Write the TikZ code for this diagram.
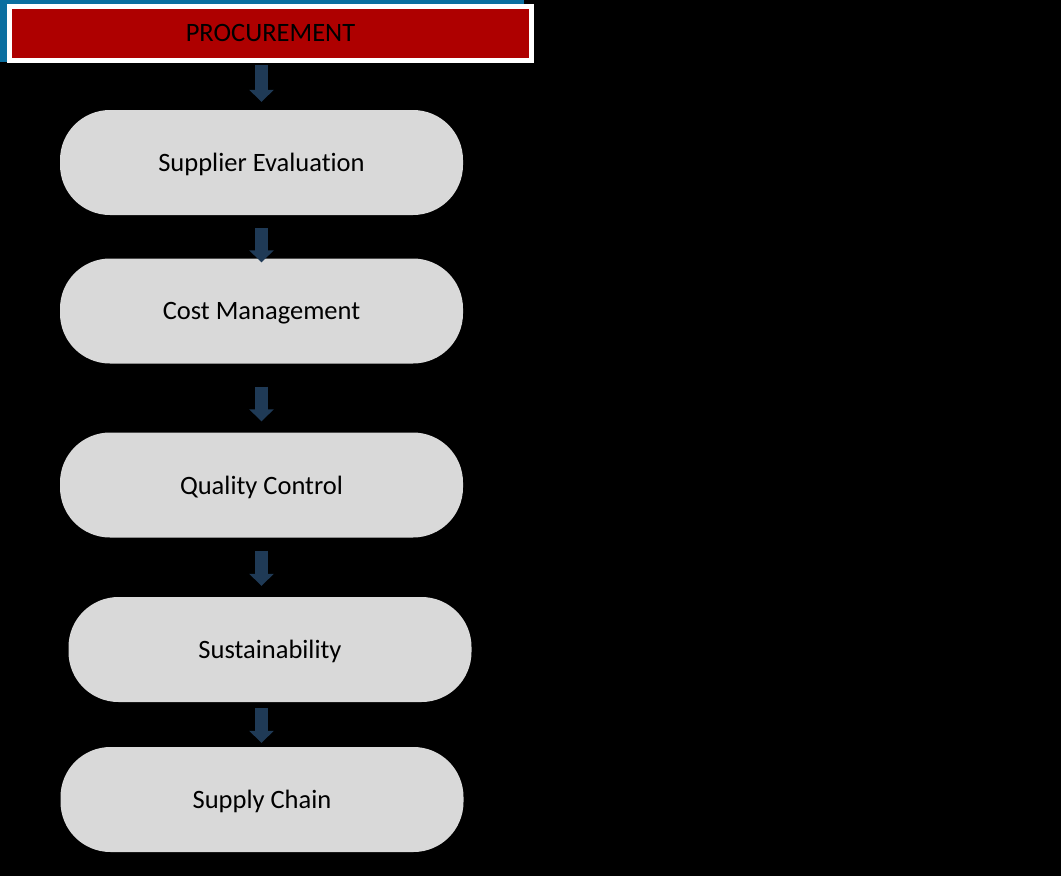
\documentclass[tikz,border=0pt]{standalone}
\usepackage{fontspec}
\setmainfont[Ligatures=NoCommon]{Carlito}
\usetikzlibrary{arrows.meta}
\definecolor{hdrred}{HTML}{AE0000}
\definecolor{hdrblue}{HTML}{0A6FA0}
\definecolor{pillgray}{HTML}{D9D9D9}
\definecolor{arrowblue}{HTML}{1F3A56}
\tikzset{
  pill/.style={fill=pillgray, draw=none, rounded corners=50pt, minimum width=403pt, minimum height=105pt, inner sep=0pt, text depth=0pt, font=\fontsize{26.5}{30}\selectfont, text=black},
  header/.style={fill=hdrred, draw=white, line width=5pt, minimum width=522pt, minimum height=54pt, inner sep=0pt, text depth=0pt, font=\fontsize{26.5}{30}\selectfont, text=black},
  blockarrow/.style={draw=arrowblue, line width=12.5pt, line cap=butt, -{Triangle[width=24pt,length=12pt]}}
}
\begin{document}
\begin{tikzpicture}[x=1pt,y=-1pt]
\useasboundingbox (0,0) rectangle (1061,876);
\fill[black] (0,0) rectangle (1061,876);
\fill[hdrblue] (0,0) rectangle (524,62);
\node[header] (hdr) at (270.5,33) {PROCUREMENT};
\node[pill] (p1) at (261.5,162.5) {Supplier Evaluation};
\node[pill] (p2) at (261.5,311) {Cost Management};
\node[pill] (p3) at (261.5,485) {Quality Control};
\node[pill] (p4) at (270,649.5) {Sustainability};
\node[pill] (p5) at (262,799.5) {Supply Chain};
\coordinate (ax) at (261.5,0);
\draw[blockarrow, shorten <=2.5pt, shorten >=8pt] (ax |- hdr.south) -- (ax |- p1.north);
\draw[blockarrow, shorten <=13pt, shorten >=-4pt] (ax |- p1.south) -- (ax |- p2.north);
\draw[blockarrow, shorten <=23pt, shorten >=11pt] (ax |- p2.south) -- (ax |- p3.north);
\draw[blockarrow, shorten <=13pt, shorten >=11pt] (ax |- p3.south) -- (ax |- p4.north);
\draw[blockarrow, shorten <=6pt, shorten >=4pt] (ax |- p4.south) -- (ax |- p5.north);
\end{tikzpicture}
\end{document}
